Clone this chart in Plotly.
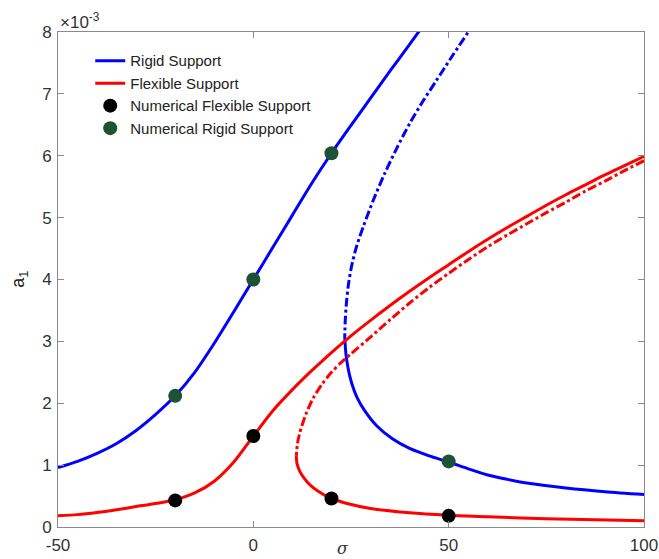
import plotly.graph_objects as go

# ---------------- data (a1 values in units of 1e-3) ----------------
rigid_upper_sigma = [-50, -45, -40, -35, -30, -25, -20, -15, -10, -5, 0, 5, 10, 15, 20, 25, 30, 35, 40, 44]
rigid_upper_a = [0.96, 1.06, 1.19, 1.35, 1.56, 1.82, 2.12, 2.50, 2.97, 3.48, 4.0, 4.52, 5.04, 5.56,
                 6.04, 6.49, 6.93, 7.37, 7.80, 8.15]

rigid_unstable_sigma = [56.5, 55.0, 50.8, 46.9, 43.3, 40.1, 36.7, 33.6, 30.7, 28.3, 26.4, 25.1, 24.3, 23.8, 23.5, 23.4]
rigid_unstable_a = [8.15, 8.0, 7.6, 7.22, 6.87, 6.53, 6.12, 5.71, 5.28, 4.88, 4.53, 4.2, 3.9, 3.6, 3.3, 3.07]

rigid_lower_sigma = [23.4, 23.7, 24.3, 25.2, 26.5, 28.5, 31.5, 35.5, 40, 45, 50, 55, 60, 65, 70, 80, 90, 100]
rigid_lower_a = [3.07, 2.80, 2.55, 2.32, 2.10, 1.88, 1.64, 1.43, 1.27, 1.15, 1.05, 0.94, 0.84, 0.77,
                 0.71, 0.63, 0.57, 0.525]

flex_upper_sigma = [-50, -45, -40, -35, -30, -25, -20, -15, -10, -5, 0, 5, 10, 15, 20, 25, 30, 35, 40, 45,
                    50, 55, 60, 65, 70, 75, 80, 85, 90, 95, 100]
flex_upper_a = [0.18, 0.20, 0.235, 0.28, 0.33, 0.38, 0.44, 0.55, 0.74, 1.05, 1.47, 1.88, 2.22, 2.53, 2.82,
                3.09, 3.34, 3.58, 3.81, 4.03, 4.24, 4.45, 4.65, 4.84, 5.02, 5.20, 5.37, 5.53, 5.69, 5.84, 5.99]

flex_unstable_sigma = [100, 95, 90, 85, 80, 75, 70, 65, 60, 55, 50, 45, 40, 35, 30, 25, 22.5, 20, 17.5,
                       15.3, 13.5, 12.4, 11.8, 11.3, 11.0]
flex_unstable_a = [5.92, 5.76, 5.59, 5.43, 5.25, 5.08, 4.90, 4.72, 4.53, 4.32, 4.10, 3.87, 3.62, 3.35,
                   3.07, 2.80, 2.66, 2.50, 2.30, 2.08, 1.83, 1.63, 1.50, 1.35, 1.15]

flex_lower_sigma = [11.0, 11.2, 11.9, 13.0, 14.5, 16.5, 19.6, 24, 30, 40, 50, 60, 75, 100]
flex_lower_a = [1.15, 1.02, 0.90, 0.79, 0.68, 0.58, 0.47, 0.38, 0.30, 0.23, 0.19, 0.165, 0.135, 0.10]

num_flex_sigma = [-20, 0, 20, 50]
num_flex_a = [0.43, 1.47, 0.46, 0.18]

num_rigid_sigma = [-20, 0, 20, 50]
num_rigid_a = [2.12, 4.0, 6.04, 1.06]

x_ticks = [-50, 0, 50, 100]
y_ticks = [0, 1, 2, 3, 4, 5, 6, 7, 8]

BLUE = "#0000FF"
RED = "#FF0000"
GREEN = "#1E5236"
LW = 3
FONT = "Liberation Sans, Arial, sans-serif"

fig = go.Figure()

fig.add_trace(go.Scatter(x=rigid_upper_sigma, y=rigid_upper_a, mode="lines", name="Rigid Support",
                         line=dict(color=BLUE, width=LW, shape="spline", smoothing=0.8), legendrank=1))
fig.add_trace(go.Scatter(x=rigid_unstable_sigma, y=rigid_unstable_a, mode="lines", showlegend=False,
                         line=dict(color=BLUE, width=LW, shape="spline", smoothing=0.8, dash="dashdot")))
fig.add_trace(go.Scatter(x=rigid_lower_sigma, y=rigid_lower_a, mode="lines", showlegend=False,
                         line=dict(color=BLUE, width=LW, shape="spline", smoothing=0.8)))

fig.add_trace(go.Scatter(x=flex_upper_sigma, y=flex_upper_a, mode="lines", name="Flexible Support",
                         line=dict(color=RED, width=LW, shape="spline", smoothing=0.8), legendrank=2))
fig.add_trace(go.Scatter(x=flex_unstable_sigma, y=flex_unstable_a, mode="lines", showlegend=False,
                         line=dict(color=RED, width=LW, shape="spline", smoothing=0.8, dash="dashdot")))
fig.add_trace(go.Scatter(x=flex_lower_sigma, y=flex_lower_a, mode="lines", showlegend=False,
                         line=dict(color=RED, width=LW, shape="spline", smoothing=0.8)))

fig.add_trace(go.Scatter(x=num_flex_sigma, y=num_flex_a, mode="markers", name="Numerical Flexible Support",
                         marker=dict(color="black", size=14), legendrank=3))
fig.add_trace(go.Scatter(x=num_rigid_sigma, y=num_rigid_a, mode="markers", name="Numerical Rigid Support",
                         marker=dict(color=GREEN, size=14), legendrank=4))

axis_common = dict(showgrid=False, zeroline=False, showline=True, linecolor="#8a8a8a", linewidth=1,
                   mirror="ticks", ticks="inside", ticklen=6, tickcolor="#8a8a8a", automargin=False,
                   tickfont=dict(family=FONT, size=17, color="#333333"))

fig.update_layout(
    width=659, height=559,
    margin=dict(l=58, r=15, t=32, b=32, autoexpand=False),
    paper_bgcolor="white", plot_bgcolor="white",
    font=dict(family=FONT, color="#222222"),
    xaxis=dict(range=[-50, 100], tickvals=x_ticks, ticktext=[str(v) for v in x_ticks],
               ticklabelstandoff=3, **axis_common),
    yaxis=dict(range=[0, 8], tickvals=y_ticks, ticktext=[str(v) for v in y_ticks],
               ticklabelstandoff=2, **axis_common),
    legend=dict(x=0.055, y=0.975, xanchor="left", yanchor="top", bgcolor="rgba(0,0,0,0)",
                font=dict(family=FONT, size=15, color="#222222"),
                tracegroupgap=0, itemwidth=30),
    showlegend=True,
)

fig.add_annotation(xref="paper", yref="paper", x=0.0, y=1.0, xanchor="left", yanchor="bottom",
                   text="×10<sup>-3</sup>", showarrow=False, yshift=-2,
                   font=dict(family=FONT, size=17, color="#333333"))
fig.add_annotation(xref="paper", yref="paper", x=-0.066, y=0.5, xanchor="center", yanchor="middle",
                   text="a<sub>1</sub>", textangle=-90, showarrow=False,
                   font=dict(family=FONT, size=18, color="#222222"))
fig.add_annotation(xref="paper", yref="paper", x=0.486, y=-0.02, xanchor="center", yanchor="top",
                   text="<i>σ</i>", showarrow=False,
                   font=dict(family="DejaVu Serif, serif", size=16, color="#333333"))

fig.write_html("out.html", config={"displayModeBar": False},
               post_script="document.body.style.margin='0';document.body.style.overflow='hidden';")
